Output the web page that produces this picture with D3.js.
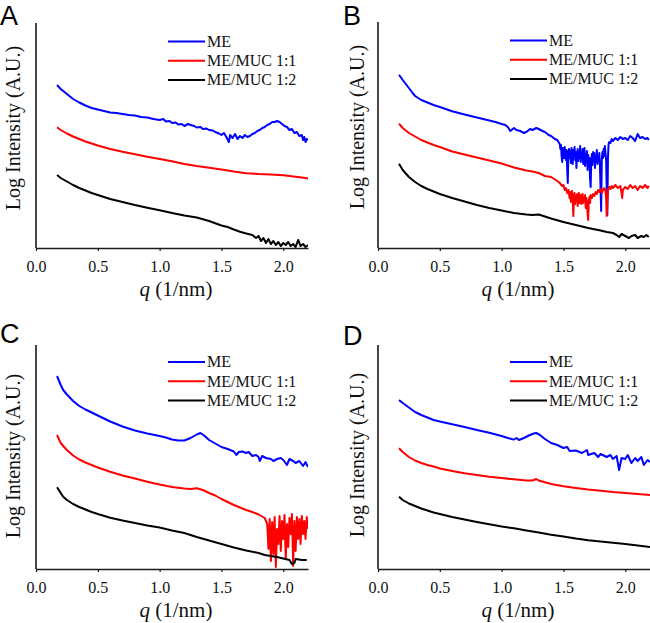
<!DOCTYPE html>
<html><head><meta charset="utf-8">
<script src="https://cdn.jsdelivr.net/npm/d3@7"></script>
<style>body{margin:0;background:#fff}svg{display:block}</style>
</head><body>
<svg id="c" width="650" height="623"></svg>
<script>
// ---------- data (log intensity in arbitrary units vs q in 1/nm) ----------
const panelLabels = ["A", "B", "C", "D"];
const seriesNames = ["ME", "ME/MUC 1:1", "ME/MUC 1:2"];
const seriesColors = ["#0000ff", "#ff0000", "#000000"];
const xTicks = [0.0, 0.5, 1.0, 1.5, 2.0];
const xDomain = [0, 2.2];
const yDomain = [0, 225];

const A_ME = [[0.17,163],[0.2,159],[0.25,154],[0.3,149],[0.35,145.5],[0.4,142.5],[0.45,140],[0.5,138.5],[0.55,137],[0.6,135.5],[0.65,135],[0.7,134],[0.75,133],[0.8,132.5],[0.85,131],[0.9,130.5],[0.95,129],[1.0,128],[1.03,129],[1.05,126.5],[1.08,127],[1.1,125],[1.13,125.5],[1.15,123.5],[1.18,124],[1.2,122],[1.23,124],[1.25,123],[1.28,122],[1.3,120.5],[1.33,121],[1.35,119],[1.38,119.5],[1.4,118],[1.43,117.5],[1.45,116],[1.48,114.5],[1.5,113],[1.52,115],[1.54,111],[1.56,106],[1.57,113],[1.59,110],[1.61,114],[1.63,109],[1.65,112],[1.67,110],[1.69,113],[1.71,111],[1.73,112],[1.75,114],[1.77,115],[1.79,117],[1.81,118],[1.83,120],[1.85,121],[1.87,123],[1.89,124],[1.91,126],[1.93,126],[1.95,127],[1.97,126],[1.99,124],[2.01,122],[2.03,121],[2.05,118],[2.07,119],[2.09,115],[2.11,116],[2.13,112],[2.15,113],[2.16,108],[2.17,111],[2.18,106],[2.19,109],[2.2,108]];
const A_MUC11 = [[0.17,120.7],[0.2,118],[0.25,114.5],[0.3,111.5],[0.35,109],[0.4,106.5],[0.45,104.5],[0.5,102.5],[0.6,99],[0.7,96.3],[0.8,93.7],[0.9,91.3],[1.0,89],[1.1,86.7],[1.2,84],[1.3,82],[1.4,80.3],[1.5,78.5],[1.6,76.5],[1.7,74.8],[1.8,74],[1.9,73.5],[2.0,72.7],[2.1,71.3],[2.15,70.5],[2.2,69.5]];
const A_MUC12 = [[0.17,73],[0.2,70],[0.25,66.5],[0.3,63],[0.35,60],[0.4,57.5],[0.45,55],[0.5,53],[0.6,49],[0.7,46],[0.8,43],[0.9,40.3],[1.0,37.7],[1.1,35],[1.2,32.5],[1.3,30.5],[1.4,27],[1.5,22.5],[1.55,21],[1.6,18.5],[1.65,16.3],[1.7,14.5],[1.75,13],[1.78,10],[1.8,12],[1.82,7],[1.84,10],[1.86,5],[1.88,9],[1.9,4],[1.92,7],[1.94,3],[1.96,6],[1.98,2],[2.0,5],[2.02,3],[2.04,6],[2.06,2],[2.08,4],[2.1,1],[2.12,8],[2.14,2],[2.16,4],[2.18,1],[2.2,3]];

const B_ME = [[0.17,173.3],[0.2,168],[0.25,160],[0.28,155],[0.3,152],[0.35,148],[0.4,145.5],[0.45,143],[0.5,141],[0.6,136.7],[0.7,133.5],[0.8,130.5],[0.9,127.5],[0.95,126],[1.0,124],[1.03,123],[1.05,121],[1.07,117],[1.1,120],[1.12,118],[1.15,117],[1.18,115],[1.2,116],[1.23,119],[1.25,118],[1.28,120],[1.3,119],[1.33,117],[1.35,116],[1.38,113],[1.4,112],[1.43,109],[1.45,108],[1.46,106],[1.47,104],[1.475,99],[1.48,103],[1.485,92],[1.49,86],[1.495,100],[1.5,97],[1.505,90],[1.51,101],[1.515,94],[1.52,88],[1.525,98],[1.53,80],[1.535,65],[1.54,95],[1.545,99],[1.55,90],[1.555,97],[1.56,85],[1.565,100],[1.57,92],[1.575,84],[1.58,98],[1.585,94],[1.59,101],[1.595,88],[1.6,96],[1.605,80],[1.61,93],[1.615,99],[1.62,87],[1.625,96],[1.63,90],[1.635,102],[1.64,86],[1.645,95],[1.65,91],[1.655,99],[1.66,84],[1.665,94],[1.67,100],[1.675,82],[1.68,92],[1.685,88],[1.69,97],[1.695,78],[1.7,93],[1.705,86],[1.71,90],[1.715,70],[1.72,61],[1.725,88],[1.73,94],[1.735,83],[1.74,96],[1.745,89],[1.75,95],[1.755,80],[1.76,92],[1.765,86],[1.77,98],[1.775,84],[1.78,91],[1.785,87],[1.79,95],[1.795,82],[1.8,60],[1.805,37],[1.81,88],[1.815,96],[1.82,90],[1.825,99],[1.83,92],[1.835,102],[1.84,95],[1.845,88],[1.85,60],[1.855,33],[1.86,90],[1.865,104],[1.87,106],[1.88,105],[1.89,109],[1.9,107],[1.92,110],[1.94,108],[1.96,111],[1.98,109],[2.0,110],[2.02,108],[2.04,112],[2.06,110],[2.08,107],[2.1,114],[2.12,110],[2.14,111],[2.16,109],[2.18,110],[2.19,108]];
const B_MUC11 = [[0.17,124.3],[0.2,120],[0.25,115],[0.3,111.5],[0.35,108],[0.4,105.5],[0.45,103],[0.5,101],[0.6,96.5],[0.7,93.5],[0.8,90.5],[0.9,87.5],[1.0,84.5],[1.1,80.5],[1.2,77.5],[1.25,76.5],[1.3,75],[1.35,72],[1.4,71],[1.45,67],[1.47,65],[1.49,62],[1.5,63],[1.51,58],[1.52,60],[1.53,55],[1.54,58],[1.55,50],[1.555,56],[1.56,46],[1.565,53],[1.57,57],[1.575,48],[1.58,32],[1.585,50],[1.59,55],[1.595,44],[1.6,52],[1.605,47],[1.61,54],[1.615,42],[1.62,50],[1.625,55],[1.63,45],[1.635,51],[1.64,53],[1.645,44],[1.65,49],[1.655,54],[1.66,45],[1.665,50],[1.67,47],[1.675,53],[1.68,40],[1.685,50],[1.69,46],[1.695,35],[1.7,28],[1.705,47],[1.71,51],[1.715,45],[1.72,53],[1.73,50],[1.74,54],[1.75,52],[1.76,56],[1.77,54],[1.78,58],[1.79,56],[1.8,59],[1.81,55],[1.82,58],[1.83,60],[1.84,57],[1.845,50],[1.85,32],[1.855,45],[1.86,58],[1.87,61],[1.88,59],[1.89,62],[1.9,60],[1.92,63],[1.94,60],[1.96,62],[1.97,55],[1.975,50],[1.98,58],[2.0,61],[2.02,59],[2.04,63],[2.06,60],[2.08,62],[2.1,58],[2.12,62],[2.14,60],[2.16,63],[2.18,60],[2.19,62]];
const B_MUC12 = [[0.17,84.3],[0.2,78],[0.25,71],[0.3,66],[0.35,62],[0.4,59],[0.45,56.5],[0.5,54],[0.6,50],[0.7,46.5],[0.8,43],[0.9,40],[1.0,37.5],[1.1,35],[1.2,33.5],[1.25,33],[1.3,33.5],[1.35,31.5],[1.4,29.5],[1.5,26],[1.6,23],[1.7,20],[1.8,17.5],[1.85,16],[1.9,15],[1.93,13],[1.95,11],[1.97,14],[2.0,12],[2.03,10],[2.05,12],[2.08,13],[2.1,10],[2.13,12],[2.15,11],[2.17,13],[2.19,11]];

const C_ME = [[0.17,193],[0.2,184],[0.22,179],[0.25,174.5],[0.3,168],[0.35,163],[0.4,159.5],[0.45,156.5],[0.5,153.5],[0.6,147.5],[0.7,142.5],[0.8,138.5],[0.9,135.5],[1.0,133],[1.05,131.5],[1.1,129.5],[1.15,128.5],[1.2,128.5],[1.25,131],[1.3,134.5],[1.33,136],[1.36,133.5],[1.4,129],[1.45,125.5],[1.5,122],[1.55,120],[1.6,117.5],[1.62,114],[1.64,117],[1.67,117.5],[1.7,116],[1.72,117],[1.75,113],[1.78,114],[1.8,112],[1.81,108],[1.83,113],[1.86,111],[1.9,110],[1.92,108],[1.95,110],[1.98,111],[2.0,109],[2.03,104],[2.05,110],[2.08,108],[2.1,106],[2.13,108],[2.16,103],[2.18,107],[2.2,102]];
const C_MUC11 = [[0.17,134],[0.2,126],[0.22,123],[0.25,119],[0.3,113.5],[0.35,109.5],[0.4,106.5],[0.45,104],[0.5,101.5],[0.6,97.3],[0.7,93.5],[0.8,90.5],[0.9,87.3],[1.0,84.5],[1.1,82],[1.2,80.5],[1.25,80],[1.3,80.7],[1.35,79],[1.4,76],[1.45,73.5],[1.5,70],[1.55,67],[1.6,64],[1.65,61.5],[1.7,59],[1.75,57],[1.8,54.5],[1.85,51],[1.87,45],[1.88,20],[1.89,50],[1.9,8],[1.91,47],[1.92,15],[1.93,52],[1.94,2],[1.95,40],[1.96,25],[1.97,53],[1.98,18],[1.99,48],[2.0,30],[2.01,54],[2.02,10],[2.03,45],[2.04,22],[2.05,51],[2.06,35],[2.07,55],[2.08,3],[2.09,48],[2.1,18],[2.11,52],[2.12,30],[2.13,50],[2.14,25],[2.15,53],[2.16,35],[2.17,48],[2.18,30],[2.19,52],[2.2,40]];
const C_MUC12 = [[0.17,81.7],[0.2,76],[0.22,72.3],[0.25,69],[0.3,65],[0.35,62],[0.4,59.5],[0.45,57],[0.5,55],[0.6,51.3],[0.7,48.5],[0.8,46],[0.9,43.5],[1.0,41.5],[1.1,38.5],[1.2,36],[1.3,32],[1.4,28.5],[1.5,25],[1.6,21.5],[1.7,18.5],[1.8,16],[1.85,14],[1.9,13],[1.95,12],[2.0,10.5],[2.05,9],[2.07,5],[2.09,6],[2.1,10],[2.15,9],[2.19,9]];

const D_ME = [[0.17,169],[0.2,166],[0.25,161.5],[0.3,157],[0.35,154],[0.4,151.5],[0.45,149],[0.5,147.5],[0.6,144.7],[0.7,142],[0.8,139],[0.9,136.3],[1.0,133],[1.05,131],[1.08,130],[1.1,129.5],[1.12,131],[1.14,129],[1.18,131],[1.22,133.5],[1.26,135.5],[1.28,136],[1.31,134],[1.35,130],[1.4,126],[1.45,124],[1.5,121],[1.53,122],[1.55,118],[1.6,118.5],[1.65,116],[1.69,119],[1.7,114],[1.75,116],[1.78,112],[1.8,115],[1.85,112],[1.88,114],[1.9,110],[1.93,113],[1.95,99],[1.97,111],[2.0,110],[2.02,114],[2.05,106],[2.08,111],[2.1,108],[2.13,112],[2.15,104],[2.18,109],[2.2,107]];
const D_MUC11 = [[0.17,120.7],[0.2,117],[0.25,112],[0.3,108.5],[0.35,106],[0.4,104],[0.45,102.5],[0.5,100.5],[0.6,98],[0.7,95.7],[0.8,94],[0.9,92.3],[1.0,91],[1.1,89.7],[1.2,88.5],[1.25,88.5],[1.28,90],[1.3,88.5],[1.4,85],[1.5,82.7],[1.6,81],[1.7,79.5],[1.8,78.3],[1.9,77],[2.0,76],[2.1,75],[2.2,74]];
const D_MUC12 = [[0.17,72.3],[0.2,69],[0.25,65.5],[0.3,63],[0.35,60.5],[0.4,58.5],[0.45,56.5],[0.5,55],[0.6,52],[0.7,49.5],[0.8,47],[0.9,44.7],[1.0,42.5],[1.1,40.7],[1.2,38.5],[1.3,36.5],[1.4,34.3],[1.5,32.5],[1.6,30.5],[1.7,28.8],[1.8,27.5],[1.9,26.3],[2.0,25],[2.1,23.5],[2.2,22]];

const panelData = [
  [A_ME, A_MUC11, A_MUC12],
  [B_ME, B_MUC11, B_MUC12],
  [C_ME, C_MUC11, C_MUC12],
  [D_ME, D_MUC11, D_MUC12]
];

// ---------- layout ----------
const layout = [
  {x0: 36,  bottom: 248, axisTop: 23,  letterX: 0,   letterY: 24.5, titleX: 20,  titleY: 128, legX: 168, legY: 41.5},
  {x0: 378, bottom: 248, axisTop: 22,  letterX: 343, letterY: 24.5, titleX: 364, titleY: 127, legX: 510, legY: 40.5},
  {x0: 36,  bottom: 569, axisTop: 345, letterX: 0,   letterY: 343,  titleX: 20,  titleY: 456, legX: 168, legY: 362},
  {x0: 378, bottom: 569, axisTop: 345, letterX: 343, letterY: 345,  titleX: 364, titleY: 455, legX: 510, legY: 362}
];
const plotW = 272, plotH = 225;
const serif = "'Times New Roman','Liberation Serif',Times,serif";

const svg = d3.select("#c");

layout.forEach((L, i) => {
  const g = svg.append("g");
  const x = d3.scaleLinear().domain(xDomain).range([L.x0, L.x0 + plotW]);
  const y = d3.scaleLinear().domain(yDomain).range([L.bottom, L.bottom - plotH]);

  const clipId = "clip" + i;
  svg.append("clipPath").attr("id", clipId).append("rect")
    .attr("x", L.x0).attr("y", L.bottom - plotH - 5).attr("width", plotW).attr("height", plotH + 5);

  // curves
  const line = d3.line().x(d => x(d[0])).y(d => y(d[1]));
  panelData[i].forEach((s, k) => {
    g.append("path").datum(s)
      .attr("clip-path", `url(#${clipId})`)
      .attr("d", line)
      .attr("fill", "none")
      .attr("stroke", seriesColors[k])
      .attr("stroke-width", 2)
      .attr("stroke-linejoin", "round");
  });

  // x axis
  const xa = g.append("g").attr("transform", `translate(0,${L.bottom})`)
    .attr("font-family", serif)
    .call(d3.axisBottom(x).tickValues(xTicks).tickFormat(d3.format(".1f")).tickSize(3).tickPadding(10).tickSizeOuter(0));
  xa.attr("font-family", serif).attr("font-size", 16);
  xa.select(".domain").attr("stroke", "#1a1a1a").attr("stroke-width", 1.6);
  xa.selectAll(".tick line").attr("stroke", "#1a1a1a").attr("stroke-width", 1.2);
  xa.selectAll(".tick text").attr("font-family", serif).attr("font-size", 16).attr("fill", "#111");

  // y axis (line only)
  g.append("line").attr("x1", L.x0).attr("x2", L.x0).attr("y1", L.bottom).attr("y2", L.axisTop)
    .attr("stroke", "#1a1a1a").attr("stroke-width", 1.6);

  // x title
  const xt = g.append("text").attr("x", (L.x0 + L.x0 + plotW) / 2 + 4).attr("y", L.bottom + 48)
    .attr("text-anchor", "middle").attr("font-family", serif).attr("font-size", 21).attr("fill", "#111");
  xt.append("tspan").attr("font-style", "italic").text("q");
  xt.append("tspan").text(" (1/nm)");

  // y title
  g.append("text").attr("transform", `translate(${L.titleX},${L.titleY}) rotate(-90)`)
    .attr("text-anchor", "middle").attr("font-family", serif).attr("font-size", 20).attr("fill", "#111")
    .text("Log Intensity (A.U.)");

  // panel letter
  g.append("text").attr("x", L.letterX).attr("y", L.letterY)
    .attr("font-family", "'Liberation Sans',Arial,sans-serif").attr("font-size", 27).attr("fill", "#000")
    .text(panelLabels[i]);

  // legend
  seriesNames.forEach((n, k) => {
    const yy = L.legY + k * 19.3;
    g.append("line").attr("x1", L.legX).attr("x2", L.legX + 37).attr("y1", yy).attr("y2", yy)
      .attr("stroke", seriesColors[k]).attr("stroke-width", 2);
    g.append("text").attr("x", L.legX + 39).attr("y", yy + 5.3)
      .attr("font-family", serif).attr("font-size", 16).attr("fill", "#111").text(n);
  });
});
</script>
</body></html>
